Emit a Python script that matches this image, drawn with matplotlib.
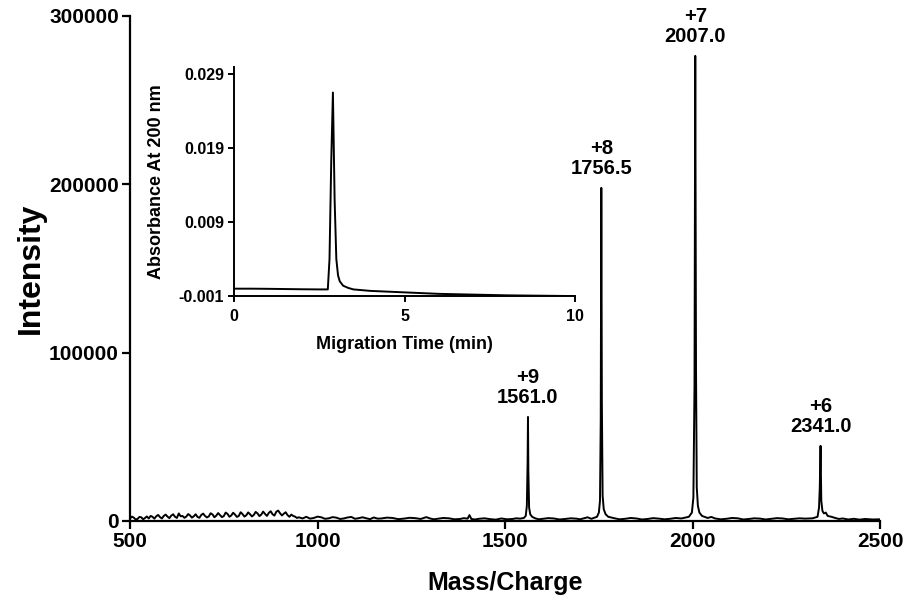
import matplotlib
matplotlib.use('Agg')
import matplotlib.pyplot as plt
import numpy as np

plt.rcParams['font.family'] = ['Liberation Sans', 'DejaVu Sans']
plt.rcParams['font.weight'] = 'bold'

# Espectro de masas: pares (m/z, intensidad)
espectro = [
    (500, 1500), (505, 2600), (510, 2000), (515, 900), (520, 1200), (525, 2400), (530, 2200),
    (535, 1000), (540, 1800), (545, 2700), (550, 1500), (555, 3000), (560, 2500), (565, 1400),
    (570, 2800), (575, 3600), (580, 2300), (585, 1500), (590, 3000), (595, 3800), (600, 2600),
    (605, 1700), (610, 3200), (615, 4000), (620, 2500), (625, 1800), (630, 4500), (635, 2800),
    (640, 3000), (645, 1900), (650, 2600), (655, 4100), (660, 3300), (665, 2000), (670, 2800),
    (675, 4000), (680, 2400), (685, 1900), (690, 3600), (695, 4400), (700, 3000), (705, 2100),
    (710, 2700), (715, 4600), (720, 3900), (725, 2200), (730, 3200), (735, 4700), (740, 3500),
    (745, 2300), (750, 2900), (755, 5000), (760, 4200), (765, 2500), (770, 3300), (775, 4900),
    (780, 3800), (785, 2400), (790, 3000), (795, 5200), (800, 4100), (805, 2600), (810, 3400),
    (815, 5100), (820, 4000), (825, 2700), (830, 3600), (835, 5400), (840, 4500), (845, 2900),
    (850, 3800), (855, 5600), (860, 4200), (865, 3000), (870, 4800), (875, 5800), (880, 4000),
    (885, 3200), (890, 5500), (895, 6200), (900, 4600), (905, 3300), (910, 4300), (915, 5200),
    (920, 3500), (925, 2500), (930, 3800), (935, 3000), (940, 2600), (945, 1800), (950, 2200),
    (960, 1500), (970, 2500), (980, 1400), (990, 1800), (1000, 2600), (1010, 2200),
    (1020, 1300), (1030, 1600), (1040, 2300), (1050, 2000), (1060, 1200), (1070, 1500),
    (1080, 2100), (1090, 2400), (1100, 1300), (1110, 1700), (1120, 2200), (1130, 1600),
    (1140, 1100), (1150, 2100), (1160, 1400), (1170, 1500), (1185, 2000), (1200, 1800),
    (1215, 1100), (1230, 1400), (1245, 1900), (1260, 1700), (1275, 1200), (1290, 2300),
    (1300, 1500), (1310, 1000), (1320, 1300), (1335, 1800), (1350, 1600), (1365, 1000),
    (1380, 1200), (1390, 1700), (1400, 1400), (1405, 3500), (1410, 1200), (1420, 900),
    (1430, 1300), (1445, 1600), (1460, 1100), (1475, 800), (1490, 1500), (1505, 1000),
    (1520, 1200), (1530, 1600), (1540, 1400), (1550, 1800), (1555, 3000), (1558, 9000),
    (1560, 35000), (1561, 61800), (1562, 30000), (1564, 8000), (1567, 4000), (1572, 2500),
    (1580, 1600), (1590, 1000), (1600, 1300), (1615, 1700), (1630, 1500), (1645, 900),
    (1660, 1200), (1675, 1600), (1690, 1400), (1700, 1000), (1710, 1600), (1720, 2200),
    (1730, 1300), (1745, 2500), (1750, 5000), (1753, 12000), (1755, 60000), (1756.5, 197900),
    (1758, 70000), (1760, 15000), (1763, 7000), (1768, 4000), (1775, 2500), (1790, 1700),
    (1805, 1000), (1820, 1300), (1835, 1800), (1850, 1500), (1865, 900), (1880, 1200),
    (1895, 1700), (1910, 1400), (1925, 1000), (1940, 1300), (1955, 1800), (1970, 1500),
    (1990, 2500), (1998, 5000), (2002, 14000), (2005, 80000), (2007, 276300),
    (2009, 90000), (2011, 20000), (2014, 9000), (2018, 5000), (2025, 3000), (2040, 1800),
    (2050, 2400), (2060, 1500), (2075, 1000), (2090, 1300), (2105, 1800), (2120, 1600),
    (2135, 900), (2150, 1200), (2165, 1600), (2180, 1400), (2195, 900), (2210, 1300),
    (2225, 1700), (2240, 1500), (2255, 1000), (2270, 1300), (2285, 1600), (2300, 1400),
    (2320, 1600), (2333, 2500), (2337, 8000), (2339, 20000), (2341, 44600), (2343, 12000),
    (2346, 6000), (2350, 4500), (2355, 5000), (2360, 3000), (2370, 2500), (2380, 1800),
    (2390, 1200), (2400, 1500), (2415, 900), (2430, 1300), (2445, 800), (2460, 1200),
    (2480, 900), (2500, 1000),
]
mz = [p[0] for p in espectro]
intensity = [p[1] for p in espectro]

# Picos etiquetados
peak_mz = [1561.0, 1756.5, 2007.0, 2341.0]
peak_h = [61800, 197900, 276300, 44600]
peak_carga = ['+9', '+8', '+7', '+6']

# Electroferograma (inserto)
t_min = [0, 0.5, 1, 1.5, 2, 2.5, 2.75, 2.8, 2.85, 2.9, 2.95, 3.0, 3.05, 3.1, 3.2, 3.35,
         3.5, 4, 5, 6, 7, 8, 9, 10]
absorb = [0.0000, 0.0000, -0.00002, -0.00005, -0.00008, -0.0001, -0.0001, 0.004,
          0.017, 0.0265, 0.012, 0.004, 0.0018, 0.0010, 0.0004, 0.0001, -0.0001,
          -0.0003, -0.0005, -0.0007, -0.0008, -0.0009, -0.00095, -0.0010]

fig = plt.figure(figsize=(9.06, 6.03), dpi=100)
ax = fig.add_axes([0.1435, 0.136, 0.828, 0.8375])
ax.plot(mz, intensity, color='black', lw=1.4)
ax.set_xlim(500, 2500)
ax.set_ylim(0, 300000)
ax.set_xticks([500, 1000, 1500, 2000, 2500])
ax.set_yticks([0, 100000, 200000, 300000])
ax.set_yticklabels(['0', '100000', '200000', '300000'])
for s in ['top', 'right']:
    ax.spines[s].set_visible(False)
for s in ['left', 'bottom']:
    ax.spines[s].set_linewidth(1.6)
ax.tick_params(direction='out', length=6, width=1.6, labelsize=15, pad=2)
ax.set_xlabel('Mass/Charge', fontsize=18, fontweight='bold', labelpad=14)
ax.set_ylabel('Intensity', fontsize=23, fontweight='bold', labelpad=2)

for x, h, c in zip(peak_mz, peak_h, peak_carga):
    ax.annotate(f'{c}\n{x:.1f}', xy=(x, h), xytext=(0, 7), textcoords='offset points',
                ha='center', va='bottom', fontsize=14.5, fontweight='bold',
                linespacing=1.1)

# Inserto
axi = fig.add_axes([0.2583, 0.509, 0.3764, 0.3805])
axi.set_facecolor('none')
axi.plot(t_min, absorb, color='black', lw=1.4)
axi.set_xlim(0, 10)
axi.set_ylim(-0.001, 0.030)
axi.set_xticks([0, 5, 10])
axi.set_yticks([-0.001, 0.009, 0.019, 0.029])
axi.set_yticklabels(['-0.001', '0.009', '0.019', '0.029'])
for s in ['top', 'right']:
    axi.spines[s].set_visible(False)
for s in ['left', 'bottom']:
    axi.spines[s].set_linewidth(1.4)
axi.tick_params(direction='out', length=4, width=1.4, labelsize=11.5, pad=3)
axi.tick_params(axis='x', pad=5)
axi.set_xlabel('Migration Time (min)', fontsize=13, fontweight='bold', labelpad=9)
axi.set_ylabel('Absorbance At 200 nm', fontsize=13, fontweight='bold', labelpad=10)

fig.savefig('out.png', dpi=100)
